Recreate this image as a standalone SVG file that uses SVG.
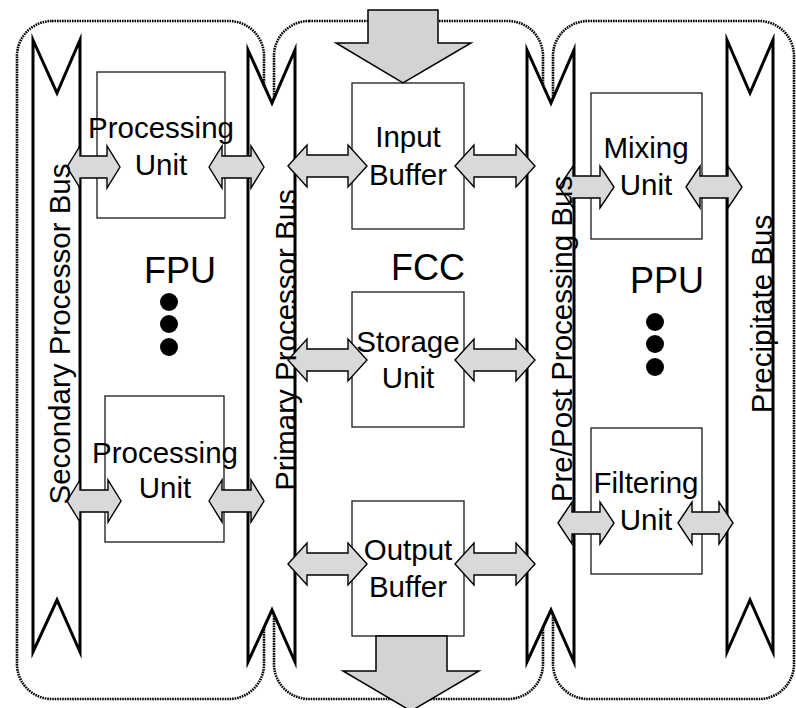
<svg xmlns="http://www.w3.org/2000/svg" width="796" height="708" viewBox="0 0 796 708">
<style>
.region{fill:none;stroke:#000;stroke-width:2.6;stroke-dasharray:1.6 0.9}
.bus{fill:#fff;stroke:#000;stroke-width:3;stroke-linejoin:miter;stroke-miterlimit:10}
.box{fill:#fff;stroke:#1a1a1a;stroke-width:1.3}
.dbl{fill:#d9d9d9;stroke:#000;stroke-width:1.4;stroke-linejoin:miter}
.big{fill:#d3d3d3;stroke:#000;stroke-width:1.5}
.lbl{font-family:"Liberation Sans",Arial,sans-serif;font-size:29.5px;fill:#000;text-anchor:middle}
.unit{font-family:"Liberation Sans",Arial,sans-serif;font-size:36px;fill:#000;text-anchor:middle}
.dot{fill:#000}
</style>
<g id="regions">
<rect id="fpu-region" class="region" x="17" y="21" width="247" height="678" rx="35" ry="35"/>
<rect id="fcc-region" class="region" x="274" y="21" width="269" height="678" rx="35" ry="35"/>
<rect id="ppu-region" class="region" x="553" y="21" width="241" height="678" rx="35" ry="35"/>
</g>
<g id="buses">
<polygon id="secondary-bus" class="bus" points="33,40 57,93 80,40 80,652 57,600 33,652"/>
<polygon id="primary-bus" class="bus" points="248,50 272,103 295,50 295,662 272,610 248,662"/>
<polygon id="prepost-bus" class="bus" points="527,50 551,103 574,50 574,662 551,610 527,662"/>
<polygon id="precipitate-bus" class="bus" points="727,40 750,93 773,40 773,652 750,600 727,652"/>
</g>
<g id="fpu">
<g id="processing-unit-1">
<rect class="box" x="97" y="72" width="128" height="146"/>
<text class="lbl" x="161" y="138">Processing</text>
<text class="lbl" x="161" y="175">Unit</text>
</g>
<g id="processing-unit-2">
<rect class="box" x="105" y="396" width="119" height="146"/>
<text class="lbl" x="165" y="463">Processing</text>
<text class="lbl" x="165" y="498">Unit</text>
</g>
<text class="unit" x="180" y="283">FPU</text>
<circle class="dot" cx="169" cy="302" r="9"/>
<circle class="dot" cx="169" cy="324" r="9"/>
<circle class="dot" cx="169" cy="347" r="9"/>
</g>
<g id="fcc">
<g id="input-buffer">
<rect class="box" x="352" y="83" width="112" height="146"/>
<text class="lbl" x="408" y="147">Input</text>
<text class="lbl" x="408" y="185">Buffer</text>
</g>
<g id="storage-unit">
<rect class="box" x="352" y="292" width="112" height="135"/>
<text class="lbl" x="408" y="352">Storage</text>
<text class="lbl" x="408" y="388">Unit</text>
</g>
<g id="output-buffer">
<rect class="box" x="352" y="501" width="112" height="135"/>
<text class="lbl" x="408" y="560">Output</text>
<text class="lbl" x="408" y="597">Buffer</text>
</g>
<text class="unit" x="428" y="280">FCC</text>
</g>
<g id="ppu">
<g id="mixing-unit">
<rect class="box" x="591" y="93" width="111" height="146"/>
<text class="lbl" x="646" y="158">Mixing</text>
<text class="lbl" x="646" y="195">Unit</text>
</g>
<g id="filtering-unit">
<rect class="box" x="591" y="428" width="111" height="146"/>
<text class="lbl" x="646" y="493">Filtering</text>
<text class="lbl" x="646" y="530">Unit</text>
</g>
<text class="unit" x="667" y="293">PPU</text>
<circle class="dot" cx="655" cy="322" r="9"/>
<circle class="dot" cx="655" cy="344" r="9"/>
<circle class="dot" cx="655" cy="367" r="9"/>
</g>
<g id="connectors">
<polygon class="big" points="368,10 438,10 438,43 471,43 403,83 336,43 368,43"/>
<polygon class="big" points="376,636 447,636 447,671 479,671 411,711 343,671 376,671"/>
<polygon class="dbl" points="67,167 80,146 80,156 107,156 107,146 120,167 107,188 107,178 80,178 80,188"/>
<polygon class="dbl" points="209,167 222,146 222,156 251,156 251,146 264,167 251,188 251,178 222,178 222,188"/>
<polygon class="dbl" points="67,501 80,480 80,490 108,490 108,480 121,501 108,522 108,512 80,512 80,522"/>
<polygon class="dbl" points="209,501 222,480 222,490 251,490 251,480 264,501 251,522 251,512 222,512 222,522"/>
<polygon class="dbl" points="288,166 307,145 307,155 348,155 348,145 367,166 348,187 348,177 307,177 307,187"/>
<polygon class="dbl" points="455,166 474,145 474,155 516,155 516,145 535,166 516,187 516,177 474,177 474,187"/>
<polygon class="dbl" points="288,360 307,339 307,349 348,349 348,339 367,360 348,381 348,371 307,371 307,381"/>
<polygon class="dbl" points="455,360 474,339 474,349 516,349 516,339 535,360 516,381 516,371 474,371 474,381"/>
<polygon class="dbl" points="288,564 307,543 307,553 348,553 348,543 367,564 348,585 348,575 307,575 307,585"/>
<polygon class="dbl" points="455,564 474,543 474,553 516,553 516,543 535,564 516,585 516,575 474,575 474,585"/>
<polygon class="dbl" points="559,187 573,166 573,176 600,176 600,166 614,187 600,208 600,198 573,198 573,208"/>
<polygon class="dbl" points="686,187 700,166 700,176 728,176 728,166 742,187 728,208 728,198 700,198 700,208"/>
<polygon class="dbl" points="558,523 572,502 572,512 600,512 600,502 614,523 600,544 600,534 572,534 572,544"/>
<polygon class="dbl" points="678,523 692,502 692,512 719,512 719,502 733,523 719,544 719,534 692,534 692,544"/>
</g>
<g id="bus-labels">
<text class="lbl" transform="translate(70,334) rotate(-90)">Secondary Processor Bus</text>
<text class="lbl" transform="translate(296,340) rotate(-90)">Primary Processor Bus</text>
<text class="lbl" transform="translate(572,339) rotate(-90)">Pre/Post Processing Bus</text>
<text class="lbl" transform="translate(772,314) rotate(-90)">Precipitate Bus</text>
</g>
</svg>
